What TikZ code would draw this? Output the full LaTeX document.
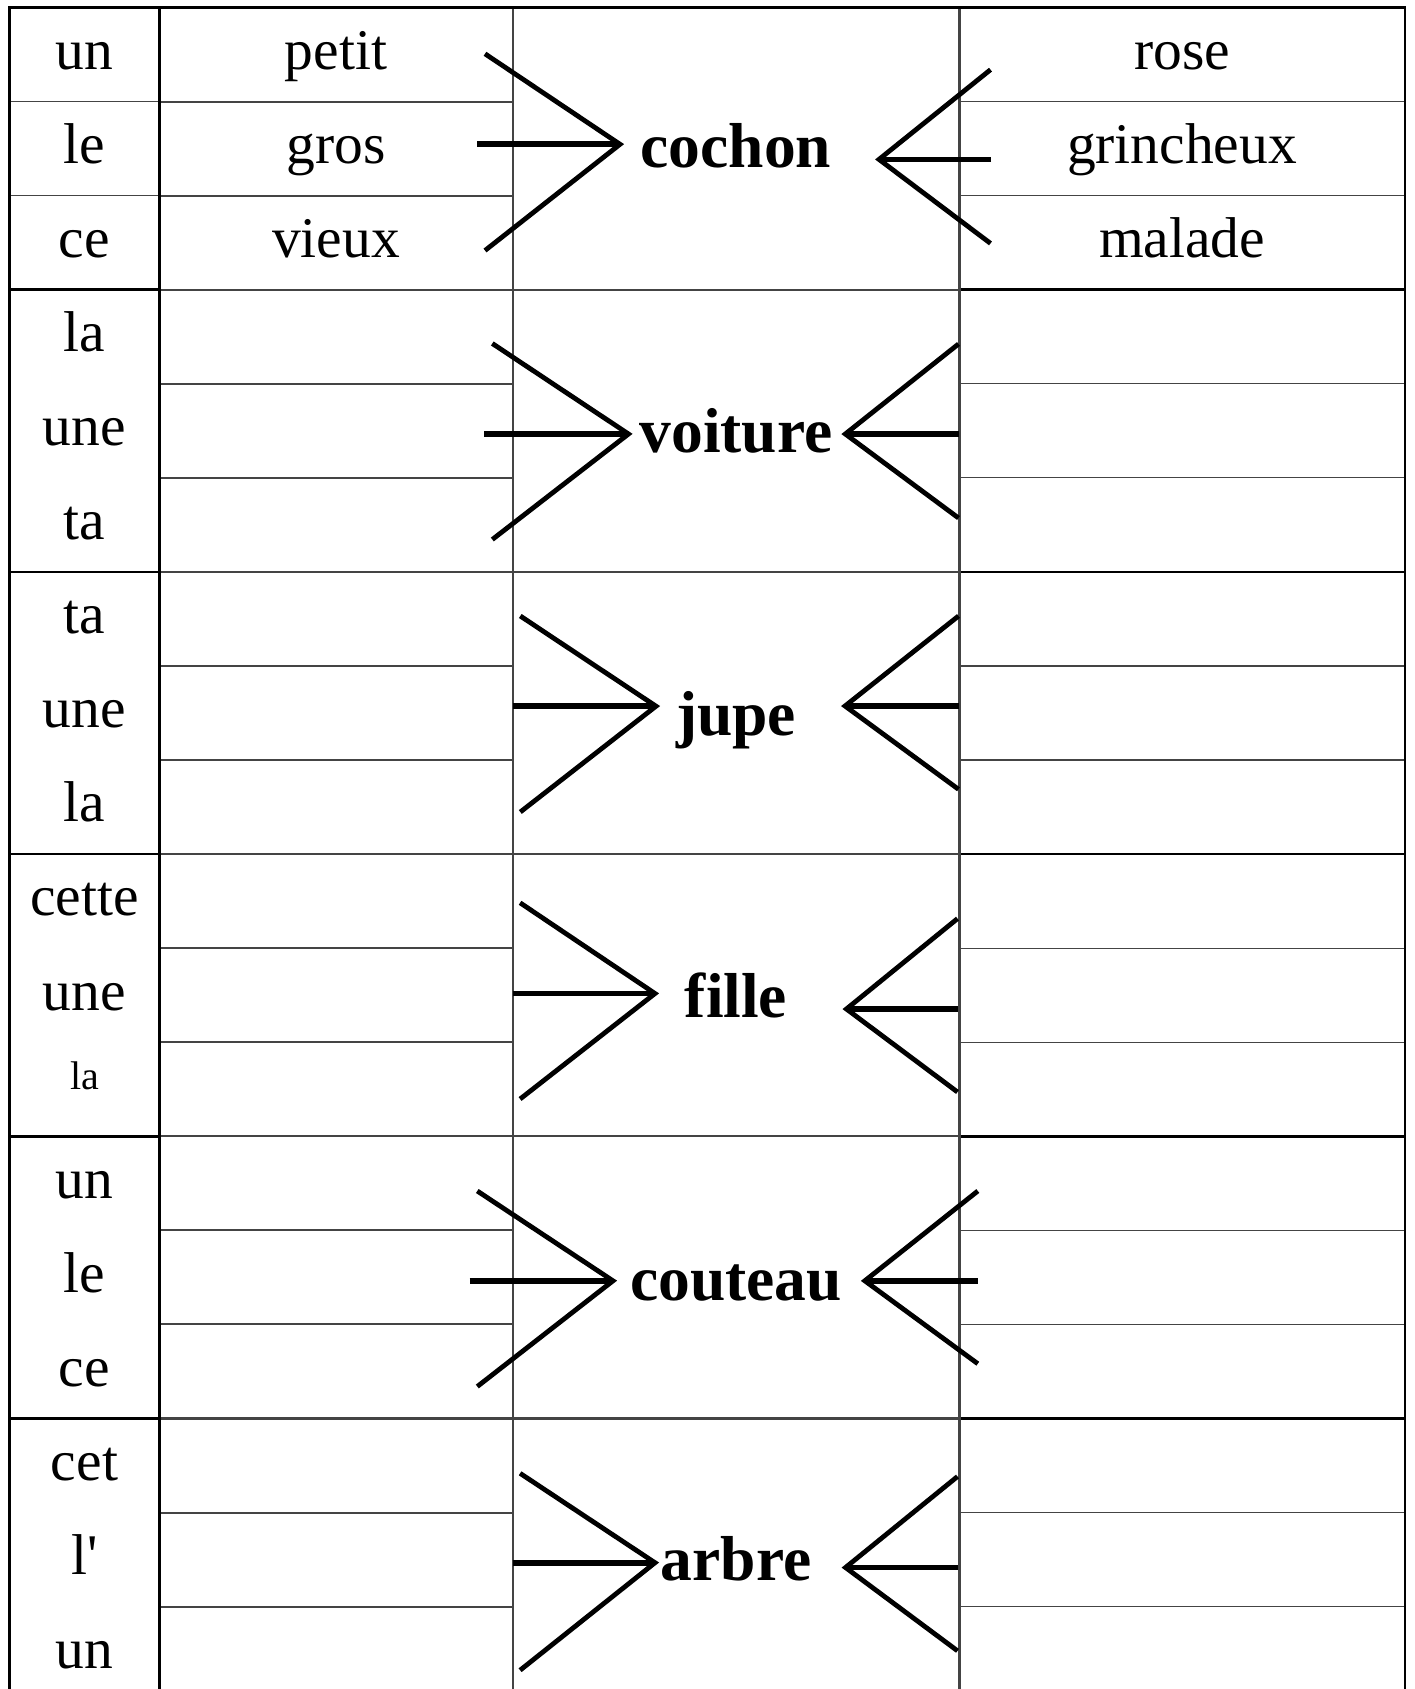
\documentclass[tikz,border=0pt]{standalone}
\usepackage{fontspec}
\setmainfont{Liberation Serif}
\newfontfamily\plainserif{Liberation Serif}
\definecolor{rulegray}{HTML}{444444}
\tikzset{
  word/.style={anchor=base, inner sep=0pt, font=\fontsize{28.75}{34}\selectfont},
  smallword/.style={anchor=base, inner sep=0pt, font=\fontsize{20}{24}\selectfont},
  noun/.style={anchor=base, inner sep=0pt, font=\fontsize{31.75}{38}\selectfont\bfseries},
  frame/.style={line width=1.35pt, black},
  grayrule/.style={line width=1.05pt, rulegray},
  thinrule/.style={line width=0.6pt, rulegray},
  arm/.style={line width=2.4pt, black},
  stem/.style={line width=2.8pt, black},
}
\begin{document}
\begin{tikzpicture}[x=0.5pt, y=-0.5pt]
\useasboundingbox (0,0) rectangle (1414,1689);
% ---- inner horizontal rules
\foreach \k in {0,...,5} {
  \pgfmathsetmacro\ga{7.5+282.2*\k+94.07}
  \pgfmathsetmacro\gb{7.5+282.2*\k+188.13}
  \draw[grayrule] (159.4,\ga) -- (512.6,\ga) (159.4,\gb) -- (512.6,\gb);
  \draw[thinrule] (959.5,\ga) -- (1405,\ga) (959.5,\gb) -- (1405,\gb);
}
\draw[thinrule] (9.5,101.57) -- (159.4,101.57) (9.5,195.63) -- (159.4,195.63);
% ---- group separators
\foreach \k in {1,...,5} {
  \pgfmathsetmacro\g{7.5+282.2*\k}
  \draw[grayrule] (159.4,\g) -- (959.5,\g);
  \draw[frame] (9.5,\g) -- (159.4,\g) (959.5,\g) -- (1405,\g);
}
% ---- vertical rules
\draw[grayrule] (512.6,7.5) -- (512.6,1689) (959.5,7.5) -- (959.5,1689);
\draw[frame] (9.5,1689) -- (9.5,7.5) -- (1405,7.5) -- (1405,1689);
\draw[frame] (159.4,7.5) -- (159.4,1689);

% ---- group 0
\node[word] (a01) at (84.5,69.3) {un};
\node[word] (a02) at (84.5,163.4) {le};
\node[word] (a03) at (84.5,257.4) {ce};
\node[word] (b01) at (336,69.3) {petit};
\node[word] (b02) at (336,163.4) {gros};
\node[word] (b03) at (336,257.4) {vieux};
\node[word] (c01) at (1182,69.3) {rose};
\node[word] (c02) at (1182,163.4) {grincheux};
\node[word] (c03) at (1182,257.4) {malade};
\node[noun] (n0) at (736,168) {cochon};
% ---- group 1
\node[word] (a11) at (84.5,351.5) {la};
\node[word] (a12) at (84.5,445.6) {une};
\node[word] (a13) at (84.5,539.6) {ta};
\node[noun] (n1) at (736,452.7) {voiture};
% ---- group 2
\node[word] (a21) at (84.5,633.7) {ta};
\node[word] (a22) at (84.5,727.8) {une};
\node[word] (a23) at (84.5,821.8) {la};
\node[noun] (n2) at (736,735) {jupe};
% ---- group 3
\node[word] (a31) at (84.5,915.9) {cette};
\node[word] (a32) at (84.5,1010) {une};
\node[smallword] (a33) at (84.5,1089) {la};
\node[noun] (n3) at (736,1017.5) {fille};
% ---- group 4
\node[word] (a41) at (84.5,1198.1) {un};
\node[word] (a42) at (84.5,1292.2) {le};
\node[word] (a43) at (84.5,1386.2) {ce};
\node[noun] (n4) at (736,1300.7) {couteau};
% ---- group 5
\node[word] (a51) at (84.5,1480.3) {cet};
\node[word] (a52) at (84.5,1574.4) {\plainserif l'};
\node[word] (a53) at (84.5,1668.4) {un};
\node[noun] (n5) at (736,1580) {arbre};

% ---- connector coordinates
\coordinate (Lu0) at (485,53.8);    \coordinate (Lt0) at (620,144.3);  \coordinate (Ll0) at (485,250.5);   \coordinate (Lm0) at (477,144.3);
\coordinate (Ru0) at (990.5,69.7);  \coordinate (Rt0) at (879,159.4);  \coordinate (Rl0) at (990.5,243.4); \coordinate (Rm0) at (991,159.4);
\coordinate (Lu1) at (492.3,343.5); \coordinate (Lt1) at (628.5,434);  \coordinate (Ll1) at (492.3,539.5); \coordinate (Lm1) at (484.3,434);
\coordinate (Ru1) at (958.5,344);   \coordinate (Rt1) at (845.3,434);  \coordinate (Rl1) at (958.5,518);   \coordinate (Rm1) at (958.5,434);
\coordinate (Lu2) at (520.3,616);   \coordinate (Lt2) at (656,706.2);  \coordinate (Ll2) at (520.3,812);   \coordinate (Lm2) at (512.6,706.2);
\coordinate (Ru2) at (958.5,616);   \coordinate (Rt2) at (845,706);    \coordinate (Rl2) at (958.5,789.3); \coordinate (Rm2) at (958.5,706);
\coordinate (Lu3) at (520.1,902.8); \coordinate (Lt3) at (655,993.5);  \coordinate (Ll3) at (520.1,1099);  \coordinate (Lm3) at (512.6,993.5);
\coordinate (Ru3) at (957.5,918.6); \coordinate (Rt3) at (846.4,1009); \coordinate (Rl3) at (957.5,1092);  \coordinate (Rm3) at (957.5,1009);
\coordinate (Lu4) at (477.3,1191);  \coordinate (Lt4) at (613,1280.8); \coordinate (Ll4) at (477.3,1386.5); \coordinate (Lm4) at (469.7,1280.8);
\coordinate (Ru4) at (977.8,1191);  \coordinate (Rt4) at (864.8,1280.8); \coordinate (Rl4) at (977.8,1363.7); \coordinate (Rm4) at (977.8,1280.8);
\coordinate (Lu5) at (520.1,1473.3); \coordinate (Lt5) at (655,1562.7); \coordinate (Ll5) at (520.1,1670.2); \coordinate (Lm5) at (512.6,1562.7);
\coordinate (Ru5) at (957.5,1476.5); \coordinate (Rt5) at (845.5,1567.5); \coordinate (Rl5) at (957.5,1650.8); \coordinate (Rm5) at (957.5,1567.5);

\foreach \k in {0,...,5} {
  \draw[arm] (Lu\k) -- (Lt\k) -- (Ll\k);
  \draw[stem] (Lm\k) -- (Lt\k);
  \draw[arm] (Ru\k) -- (Rt\k) -- (Rl\k);
  \draw[stem] (Rm\k) -- (Rt\k);
}
\end{tikzpicture}
\end{document}
